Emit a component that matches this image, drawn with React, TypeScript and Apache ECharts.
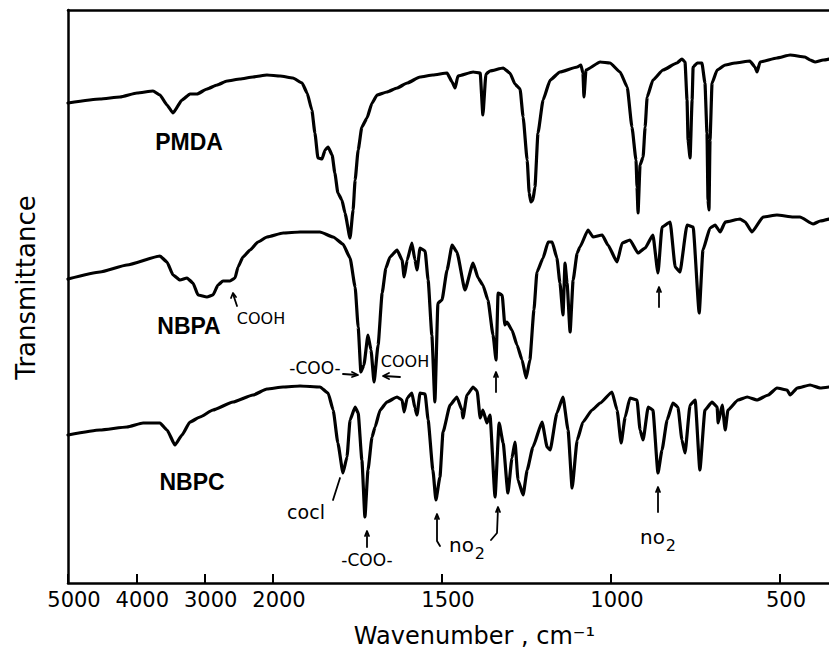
import React, { useEffect, useRef } from "react";
import * as echarts from "echarts";

// Wavenumber tick labels (cm-1)
const TICK_WAVENUMBERS = [5000, 4000, 3000, 2000, 1500, 1000, 500];

// Spectra: [wavenumber (cm-1), transmittance (arbitrary offset units)]
const PMDA: [number, number][] = [
  [5000,480],[4532,484],[4239,486],[3990,490],[3756,492],[3654,488],[3551,478],[3463,470],[3332,483],[3215,489],[3112,489],[2966,494],[2819,498],[2673,502],[2483,504],[2293,506],[2088,508],[1979,507],[1941,505],[1914,500],[1899,490],[1885,473],[1876,450],[1867,425],[1855,424],[1846,433],[1837,436],[1825,428],[1817,410],[1808,390],[1796,383],[1787,370],[1772,345],[1763,373],[1757,403],[1748,433],[1737,456],[1722,465],[1707,480],[1692,488],[1663,491],[1633,495],[1603,500],[1565,506],[1527,508],[1485,510],[1470,501],[1461,495],[1453,507],[1408,511],[1387,510],[1379,468],[1370,509],[1358,512],[1319,515],[1299,510],[1284,499],[1269,494],[1260,466],[1248,423],[1242,390],[1237,381],[1231,383],[1225,396],[1216,450],[1201,483],[1180,503],[1151,511],[1100,516],[1089,518],[1083,510],[1080,486],[1074,513],[1032,521],[1003,520],[973,511],[952,496],[938,456],[926,423],[923,396],[920,370],[914,418],[905,426],[899,456],[893,486],[876,503],[846,513],[805,520],[790,524],[781,521],[775,483],[772,443],[766,425],[760,483],[757,516],[745,520],[731,520],[722,500],[716,450],[713,383],[710,373],[707,443],[701,500],[686,513],[662,518],[633,520],[589,522],[574,516],[568,511],[559,521],[509,525],[470,528],[426,526],[411,523],[396,521],[372,523],[355,524]
];

const NBPA: [number, number][] = [
  [5000,304],[4532,311],[4137,318],[3654,327],[3551,321],[3463,308],[3361,303],[3258,305],[3171,300],[3097,288],[2966,286],[2878,288],[2805,298],[2732,302],[2629,302],[2556,305],[2512,316],[2439,326],[2336,333],[2219,341],[2088,346],[1970,350],[1920,351],[1861,351],[1822,346],[1793,339],[1772,325],[1757,296],[1748,256],[1740,211],[1731,218],[1719,248],[1710,233],[1701,201],[1689,238],[1677,290],[1666,315],[1654,326],[1633,333],[1618,323],[1612,306],[1603,323],[1589,340],[1580,323],[1574,313],[1565,335],[1550,332],[1541,303],[1530,248],[1521,181],[1512,280],[1500,283],[1485,313],[1470,338],[1456,331],[1432,293],[1408,320],[1393,305],[1379,298],[1364,283],[1349,248],[1340,223],[1334,290],[1322,288],[1314,258],[1308,261],[1293,253],[1278,238],[1263,223],[1251,205],[1240,223],[1228,273],[1219,311],[1201,325],[1186,341],[1174,341],[1160,325],[1151,300],[1142,268],[1136,320],[1130,300],[1121,251],[1112,303],[1100,330],[1092,336],[1068,353],[1053,346],[1026,348],[1009,338],[982,321],[967,340],[944,343],[920,330],[899,335],[876,348],[861,310],[849,356],[825,361],[810,316],[796,311],[775,358],[757,356],[739,270],[728,333],[707,355],[692,358],[677,351],[662,361],[618,364],[603,361],[583,351],[550,366],[509,368],[461,366],[441,366],[402,359],[381,362],[355,364]
];

const NBPC: [number, number][] = [
  [5000,148],[4532,153],[4137,156],[3902,160],[3654,160],[3551,153],[3434,138],[3332,148],[3215,161],[3068,166],[2878,173],[2585,181],[2293,188],[2088,194],[1970,196],[1920,197],[1861,196],[1837,190],[1822,173],[1808,140],[1793,110],[1781,126],[1772,163],[1757,176],[1748,170],[1737,123],[1728,66],[1719,113],[1707,146],[1698,156],[1683,173],[1663,181],[1633,186],[1618,183],[1612,171],[1603,185],[1589,190],[1580,175],[1574,168],[1565,190],[1550,189],[1541,163],[1527,113],[1518,83],[1506,106],[1497,151],[1476,178],[1456,186],[1441,173],[1438,165],[1426,188],[1408,196],[1396,192],[1387,165],[1379,173],[1367,160],[1358,168],[1343,86],[1331,160],[1319,140],[1305,90],[1293,125],[1284,141],[1275,103],[1260,88],[1248,113],[1231,136],[1204,161],[1189,136],[1180,133],[1160,170],[1142,186],[1127,153],[1115,95],[1100,143],[1083,161],[1056,173],[1032,180],[997,191],[982,173],[970,140],[958,166],[944,185],[923,183],[914,153],[905,143],[890,176],[876,173],[861,110],[849,133],[834,163],[817,180],[802,176],[790,143],[781,130],[766,178],[751,183],[737,113],[722,173],[701,181],[686,176],[683,160],[671,178],[662,153],[654,173],[624,183],[597,186],[568,183],[535,188],[509,195],[479,193],[470,188],[449,195],[411,198],[381,195],[355,196]
];

// Axis scale change at 2000 cm-1 (compressed above, expanded below)
const SCALE_RATIO = 169 / 68.33;
function toAxis(w: number): number {
  return w >= 2000 ? (5000 - w) / 1000 : 3 + ((2000 - w) / 500) * SCALE_RATIO;
}
const AXIS_MAX = 761 / 68.33;

const BLACK = "#000";
const FONT = "DejaVu Sans";

function txt(text: string, x: number, y: number, size: number, bold = false, extra: any = {}) {
  return {
    type: "text",
    x,
    y,
    silent: true,
    style: {
      text,
      fill: BLACK,
      fontFamily: bold ? "Liberation Sans" : FONT,
      fontWeight: bold ? "bold" : "normal",
      fontSize: size,
      align: "center",
      verticalAlign: "middle",
      ...extra,
    },
  };
}

function pl(points: number[][], w = 1.8) {
  return {
    type: "polyline",
    silent: true,
    shape: { points },
    style: { stroke: BLACK, lineWidth: w, fill: null, lineCap: "round", lineJoin: "round" },
  };
}

const NO2_RICH = {
  a: { fontSize: 20, fontFamily: FONT, fill: BLACK, verticalAlign: "top" },
  b: { fontSize: 16, fontFamily: FONT, fill: BLACK, verticalAlign: "top", padding: [11, 0, 0, 1] },
};

export default function App() {
  const ref = useRef<HTMLDivElement>(null);
  useEffect(() => {
    const chart = echarts.init(ref.current!, null, { renderer: "svg" });
    const tickVals = TICK_WAVENUMBERS.map(toAxis);
    const axisLine = { show: true, onZero: false, lineStyle: { color: BLACK, width: 2.5 } };
    const mk = (name: string, data: [number, number][]) => ({
      type: "line",
      name,
      data: data.map(([w, v]) => [toAxis(w), v]),
      symbol: "none",
      showSymbol: false,
      smooth: 0.15,
      smoothMonotone: "x",
      lineStyle: { color: BLACK, width: 3.2, join: "round", cap: "round" },
      z: 3,
    });
    chart.setOption({
      animation: false,
      backgroundColor: "#fff",
      grid: { left: 68, right: 0, top: 10, bottom: 73 },
      xAxis: [
        {
          type: "value",
          min: 0,
          max: AXIS_MAX,
          position: "bottom",
          axisLine,
          axisTick: {
            show: true,
            inside: true,
            length: 9,
            customValues: tickVals,
            lineStyle: { color: BLACK, width: 2 },
          },
          axisLabel: {
            customValues: tickVals,
            color: BLACK,
            fontFamily: FONT,
            fontSize: 21,
            margin: 6,
            padding: [0, 0, 0, 12],
            formatter: (val: number) => {
              let best = TICK_WAVENUMBERS[0];
              let d = Infinity;
              TICK_WAVENUMBERS.forEach((t) => {
                const dd = Math.abs(toAxis(t) - val);
                if (dd < d) { d = dd; best = t; }
              });
              return String(best);
            },
          },
          splitLine: { show: false },
          name: "Wavenumber , cm⁻¹",
          nameLocation: "middle",
          nameGap: 41,
          nameTextStyle: { color: BLACK, fontFamily: FONT, fontSize: 24, padding: [0, 0, 0, 52] },
        },
        {
          type: "value",
          min: 0,
          max: AXIS_MAX,
          position: "top",
          axisLine,
          axisTick: { show: false },
          axisLabel: { show: false },
          splitLine: { show: false },
        },
      ],
      yAxis: {
        type: "value",
        min: 0,
        max: 573,
        axisLine,
        axisTick: { show: false },
        axisLabel: { show: false },
        splitLine: { show: false },
        name: "Transmittance",
        nameLocation: "middle",
        nameGap: 29,
        nameRotate: 90,
        nameTextStyle: { color: BLACK, fontFamily: FONT, fontSize: 26, padding: [0, 0, 0, 18] },
      },
      series: [mk("PMDA", PMDA), mk("NBPA", NBPA), mk("NBPC", NBPC)],
      graphic: [
        txt("PMDA", 189, 142, 23, true),
        txt("NBPA", 189, 326, 23, true),
        txt("NBPC", 192, 482, 23, true),
        // NBPA annotations
        txt("COOH", 261, 318, 16),
        pl([[233, 294], [237, 306]]),
        pl([[231, 298], [233, 293], [236, 297]]),
        txt("-COO-", 315, 368, 17),
        pl([[343, 374], [357, 375]]),
        pl([[352, 372], [358, 375], [352, 377]]),
        txt("COOH", 405, 361, 16),
        pl([[400, 377], [384, 376]]),
        pl([[389, 373], [383, 376], [389, 379]]),
        pl([[496, 392], [496, 373]]),
        pl([[494, 377], [496, 372], [498, 377]]),
        pl([[659, 307], [659, 288]]),
        pl([[657, 292], [659, 287], [661, 292]]),
        // NBPC annotations
        txt("cocl", 306, 512, 19),
        pl([[333, 500], [340, 478]]),
        txt("-COO-", 367, 560, 17),
        pl([[367, 547], [367, 532]]),
        pl([[365, 536], [367, 531], [369, 536]]),
        pl([[440, 546], [437, 541], [437, 515]]),
        pl([[435, 519], [437, 514], [439, 519]]),
        { ...txt("{a|no}{b|2}", 467, 548, 20, false, { rich: NO2_RICH }) },
        pl([[491, 540], [497, 533], [498, 508]]),
        pl([[496, 512], [498, 507], [500, 512]]),
        { ...txt("{a|no}{b|2}", 658, 540, 20, false, { rich: NO2_RICH }) },
        pl([[658, 512], [658, 488]]),
        pl([[656, 492], [658, 487], [660, 492]]),
      ],
    });
    return () => chart.dispose();
  }, []);
  return (
    <div
      ref={ref}
      style={{ position: "fixed", left: 0, top: 0, width: 829, height: 656, background: "#fff" }}
    />
  );
}
